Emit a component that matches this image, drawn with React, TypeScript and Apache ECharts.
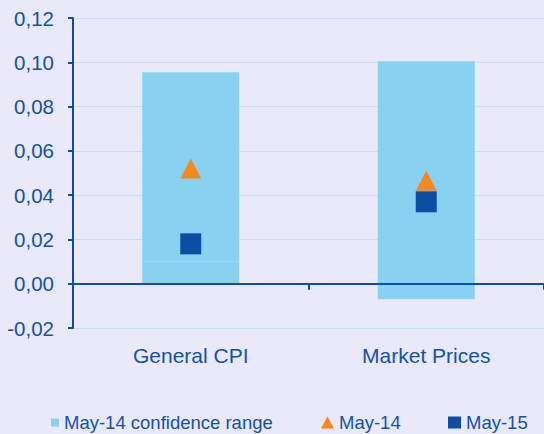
import React, { useEffect, useRef } from "react";
import * as echarts from "echarts";

const categories = ["General CPI", "Market Prices"];
const rangeLow = [0.01, -0.007];
const rangeHigh = [0.0955, 0.1005];
const may14 = [0.052, 0.0465];
const may15 = [0.018, 0.037];
const yTicks = { min: -0.02, max: 0.12, interval: 0.02 };

const TEXT = "#1452A8";
const AXIS = "#0B4EA2";
const BAR = "#89D1F1";
const ORANGE = "#F7881F";
const NAVY = "#0B4EA2";
const BG = "#E9E9F9";
const GRIDLINE = "#BEE2F6";
const FONT = "Liberation Sans, Arial, sans-serif";

export default function App() {
  const ref = useRef<HTMLDivElement>(null);
  useEffect(() => {
    if (!ref.current) return;
    const chart = echarts.init(ref.current, null, { renderer: "svg" });
    const baseVals = rangeLow.map((v) => v);
    const topVals = rangeHigh.map((h, i) => (rangeLow[i] > 0 ? h - rangeLow[i] : h));
    const legendText = { color: TEXT, fontSize: 18.5, fontFamily: FONT };
    chart.setOption({
      animation: false,
      backgroundColor: BG,
      textStyle: { fontFamily: FONT },
      grid: { left: 73, top: 18, bottom: 106, width: 474, containLabel: false },
      xAxis: [
        {
          type: "category",
          data: categories,
          position: "bottom",
          axisLine: { show: false, onZero: false },
          axisTick: { show: false },
          axisLabel: { color: TEXT, fontSize: 21, margin: 17, fontFamily: FONT },
          splitLine: { show: false },
        },
        {
          type: "category",
          data: categories,
          position: "bottom",
          z: 5,
          axisLine: { show: true, onZero: true, lineStyle: { color: AXIS, width: 2 } },
          axisTick: { show: true, length: 6, lineStyle: { color: AXIS, width: 2 } },
          axisLabel: { show: false },
          splitLine: { show: false },
        },
      ],
      yAxis: {
        type: "value",
        min: yTicks.min,
        max: yTicks.max,
        interval: yTicks.interval,
        axisLine: { show: true, lineStyle: { color: AXIS, width: 2 } },
        axisTick: { show: true, length: 5, lineStyle: { color: AXIS, width: 2 } },
        axisLabel: {
          color: TEXT,
          fontSize: 20.5,
          margin: 19,
          fontFamily: FONT,
          formatter: (v: number) => v.toFixed(2).replace(".", ","),
        },
        splitLine: { show: true, lineStyle: { color: GRIDLINE, width: 1 } },
      },
      legend: [
        {
          data: [{ name: "May-14 confidence range", icon: "rect" }],
          left: 46,
          top: 408,
          padding: 5,
          itemWidth: 8,
          itemHeight: 8,
          textStyle: legendText,
        },
        {
          data: [{ name: "May-14", icon: "triangle" }],
          left: 316,
          top: 408,
          padding: 5,
          itemWidth: 13,
          itemHeight: 12,
          textStyle: legendText,
        },
        {
          data: [{ name: "May-15", icon: "rect" }],
          left: 443,
          top: 408,
          padding: 5,
          itemWidth: 13,
          itemHeight: 12,
          textStyle: legendText,
        },
      ],
      series: [
        {
          name: "May-14 confidence range",
          type: "bar",
          stack: "range",
          barWidth: 97,
          xAxisIndex: 0,
          itemStyle: { color: BAR },
          data: baseVals,
        },
        {
          name: "May-14 confidence range",
          type: "bar",
          stack: "range",
          barWidth: 97,
          xAxisIndex: 0,
          itemStyle: { color: BAR },
          data: topVals,
        },
        {
          name: "May-14",
          type: "scatter",
          xAxisIndex: 0,
          symbol: "triangle",
          symbolSize: [21, 20],
          itemStyle: { color: ORANGE, opacity: 1 },
          z: 4,
          data: may14,
        },
        {
          name: "May-15",
          type: "scatter",
          xAxisIndex: 0,
          symbol: "rect",
          symbolSize: 21,
          itemStyle: { color: NAVY, opacity: 1, borderRadius: 2 },
          z: 4,
          data: may15,
        },
      ],
    });
    return () => chart.dispose();
  }, []);
  return (
    <div
      ref={ref}
      style={{ position: "fixed", left: 0, top: 0, width: 544, height: 434 }}
    />
  );
}
